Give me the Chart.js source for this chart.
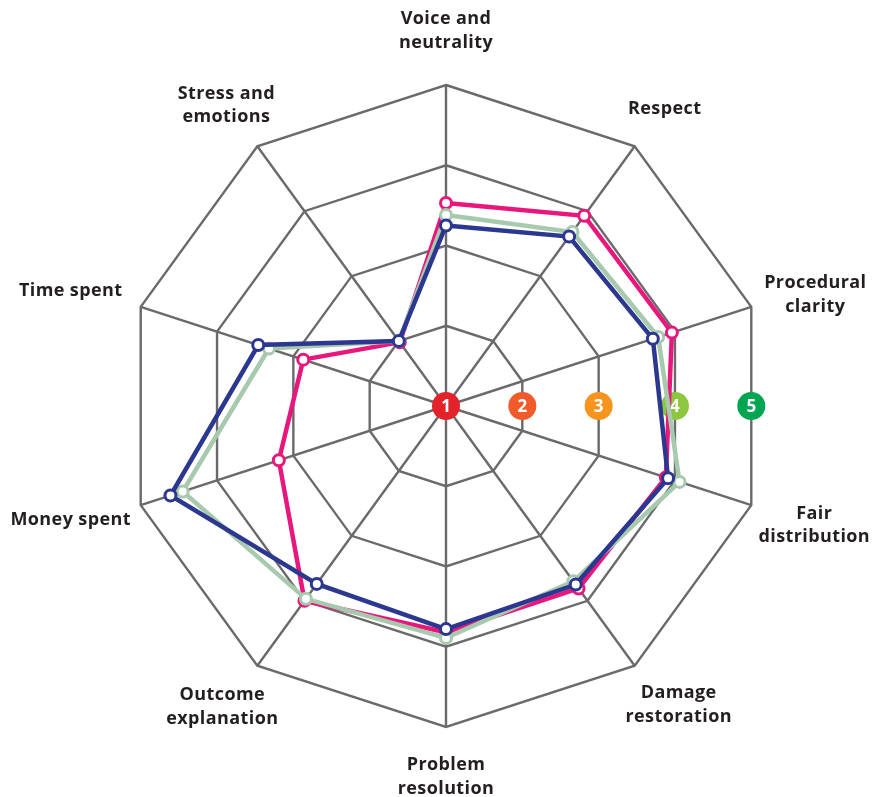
<!DOCTYPE html>
<html><head><meta charset="utf-8">
<script src="https://cdn.jsdelivr.net/npm/chart.js@4"></script>
<style>html,body{margin:0;padding:0;background:#fff;overflow:hidden}</style>
</head><body>
<canvas id="c" width="874" height="797"></canvas>
<script>
const categories = [["Voice and","neutrality"],["Respect"],["Procedural","clarity"],["Fair","distribution"],["Damage","restoration"],["Problem","resolution"],["Outcome","explanation"],["Money spent"],["Time spent"],["Stress and","emotions"]];
const seriesPink  = [3.53,3.93,3.96,3.88,3.81,3.82,4.00,3.19,2.87,1.98];
const seriesGreen = [3.38,3.68,3.78,4.06,3.70,3.89,3.97,4.45,3.32,2.00];
const seriesBlue  = [3.25,3.61,3.71,3.91,3.75,3.78,3.74,4.61,3.46,2.00];
const tickValues  = [1,2,3,4,5];

const tickColors = ['#e3232a','#f15a2b','#f7941e','#8dc63f','#00a551'];
// label centre offsets from the outer vertex (style, not data)
const labelOffsets = [[0,-54],[30,-37],[64,-12],[63,20],[44,39],[0,50],[-35,41],[-70,15],[-70,-16],[-31,-41]];

const overlayPlugin = {
  id: 'overlay',
  beforeDatasetsDraw(chart) {
    const s = chart.scales.r, ctx = chart.ctx;
    ctx.save();
    tickValues.forEach((v, i) => {
      const d = s.getDistanceFromCenterForValue(v) * Math.cos(Math.PI / categories.length);
      const x = s.xCenter + d, y = s.yCenter;
      ctx.beginPath();
      ctx.arc(x, y, 14, 0, Math.PI * 2);
      ctx.fillStyle = tickColors[i];
      ctx.fill();
      ctx.fillStyle = '#fff';
      ctx.font = 'bold 17px "Open Sans"';
      ctx.textAlign = 'center';
      ctx.textBaseline = 'middle';
      ctx.fillText(String(v), x, y + 1);
    });
    ctx.restore();
  },
  afterDraw(chart) {
    const s = chart.scales.r, ctx = chart.ctx;
    ctx.save();
    ctx.fillStyle = '#231f20';
    ctx.font = 'bold 18px "Open Sans"';
    if ('letterSpacing' in ctx) ctx.letterSpacing = '0.4px';
    ctx.textAlign = 'center';
    ctx.textBaseline = 'middle';
    categories.forEach((lab, i) => {
      const p = s.getPointPosition(i, s.drawingArea);
      const cx = p.x + labelOffsets[i][0], cy = p.y + labelOffsets[i][1];
      const lh = 23.5;
      lab.forEach((line, j) => {
        ctx.fillText(line, cx, cy + (j - (lab.length - 1) / 2) * lh);
      });
    });
    ctx.restore();
  }
};

const ds = (label, data, color, order) => ({
  label, data, order,
  borderColor: color, borderWidth: 4.5,
  pointRadius: 5.5, pointHoverRadius: 5.5, pointBorderWidth: 3,
  pointBorderColor: color, pointBackgroundColor: '#fff',
  backgroundColor: 'transparent', fill: false
});

new Chart(document.getElementById('c'), {
  type: 'radar',
  data: {
    labels: categories,
    datasets: [
      ds('Blue', seriesBlue, '#2c3790', 1),
      ds('Green', seriesGreen, '#a7c9ad', 2),
      ds('Pink', seriesPink, '#e8177c', 3)
    ]
  },
  options: {
    responsive: false,
    animation: false,
    devicePixelRatio: 1,
    layout: { padding: { left: 18, right: 0, top: 85, bottom: 70 } },
    plugins: { legend: { display: false }, tooltip: { enabled: false } },
    scales: {
      r: {
        min: 1, max: 5,
        ticks: { display: false, stepSize: 1 },
        pointLabels: { display: false },
        grid: { circular: false, color: '#6a6a6d', lineWidth: 2.4 },
        angleLines: { color: '#6a6a6d', lineWidth: 2.4 }
      }
    }
  },
  plugins: [overlayPlugin]
});
</script>
</body></html>
